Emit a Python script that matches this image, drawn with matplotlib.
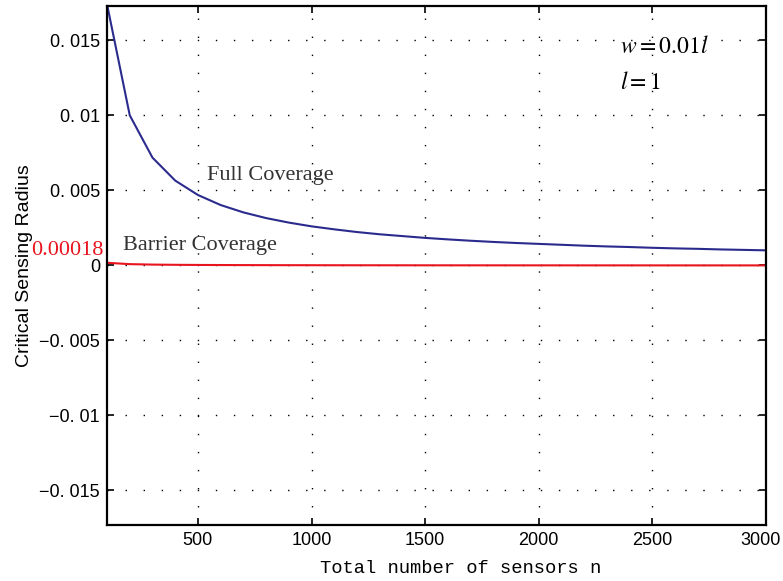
import matplotlib.pyplot as plt

n = [100, 200, 300, 400, 500, 600, 700, 800, 900, 1000,
     1100, 1200, 1300, 1400, 1500, 1600, 1700, 1800, 1900, 2000,
     2100, 2200, 2300, 2400, 2500, 2600, 2700, 2800, 2900, 3000]

full_cov = [0.01741, 0.01001, 0.00719, 0.00566, 0.00470, 0.00403, 0.00354, 0.00316, 0.00286, 0.00261,
            0.00241, 0.00223, 0.00208, 0.00196, 0.00184, 0.00174, 0.00165, 0.00157, 0.00150, 0.00144,
            0.00138, 0.00132, 0.00127, 0.00123, 0.00118, 0.00114, 0.00111, 0.00107, 0.00104, 0.00101]

barrier_cov = [0.00018, 0.00009, 0.00006, 0.000045, 0.000036, 0.00003, 0.000026, 0.000023, 0.00002, 0.000018,
               0.000016, 0.000015, 0.000014, 0.000013, 0.000012, 0.000011, 0.000011, 0.00001, 0.0000095, 0.000009,
               0.0000086, 0.0000082, 0.0000078, 0.0000075, 0.0000072, 0.0000069, 0.0000067, 0.0000064, 0.0000062, 0.000006]

xticks = [500, 1000, 1500, 2000, 2500, 3000]
yticks = [-0.015, -0.01, -0.005, 0, 0.005, 0.01, 0.015]
ytick_labels = ['\u22120. 015', '\u22120. 01', '\u22120. 005', '0', '0. 005', '0. 01', '0. 015']

plt.rcParams['mathtext.fontset'] = 'stix'
sans = 'Liberation Sans'

fig = plt.figure(figsize=(7.83, 5.81), dpi=100)
ax = fig.add_axes([0.1367, 0.0964, 0.8416, 0.8933])

ax.plot(n, full_cov, color='#2b2b8e', lw=1.5)
ax.plot(n, barrier_cov, color='#e8141e', lw=1.5)

ax.set_xlim(100, 3000)
ax.set_ylim(-0.0173, 0.0173)
ax.set_xticks(xticks)
# last label is drawn separately below, it sits right on the figure edge
ax.set_xticklabels([str(t) for t in xticks[:-1]] + [''], family=sans, fontsize=13)
ax.set_yticks(yticks)
ax.set_yticklabels(ytick_labels, family=sans, fontsize=13)

ax.annotate(str(xticks[-1]), xy=(xticks[-1], 0), xycoords=('data', 'axes fraction'),
            xytext=(-4, -5.2), textcoords='offset points', ha='center', va='top',
            family=sans, fontsize=13)

ax.tick_params(direction='in', length=5, width=1.2, top=True, right=True, pad=5)
for s in ax.spines.values():
    s.set_linewidth(1.6)

ax.grid(True, color='black', lw=1.0, linestyle=(0, (1, 12)))

ax.set_xlabel('Total number of sensors n', family='Liberation Mono', fontsize=13.5, va='center')
ax.xaxis.set_label_coords(0.536, -0.083)
ax.set_ylabel('Critical Sensing Radius', family=sans, fontsize=14, va='center')
ax.yaxis.set_label_coords(-0.125, 0.5)

ax.text(542, 0.0057, 'Full Coverage', family='Liberation Serif', fontsize=16, color='#333333')
ax.text(170, 0.00105, 'Barrier Coverage', family='Liberation Serif', fontsize=16, color='#333333')
ax.text(-0.006, 0.0007, '0.00018', transform=ax.get_yaxis_transform(), ha='right', va='baseline',
        family='Liberation Serif', fontsize=16, color='#e8141e')
ax.text(2357, 0.0146, r'$w=0.01l$', fontsize=17, va='center')
ax.text(2357, 0.0122, r'$l=1$', fontsize=17, va='center')

fig.savefig('out.png', dpi=100)
